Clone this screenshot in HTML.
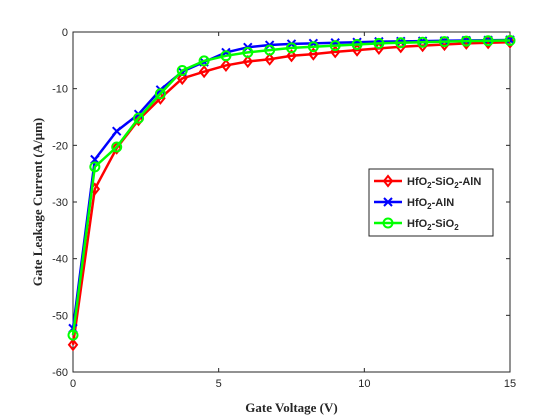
<!DOCTYPE html>
<html><head><meta charset="utf-8"><style>
body{margin:0;background:#fff}
svg{display:block}
</style></head><body>
<svg id="chart" width="560" height="420" xmlns="http://www.w3.org/2000/svg" font-family="Liberation Sans, sans-serif">
<rect width="560" height="420" fill="#fff"/>
<g id="plot"></g>
</svg>
<script>
const xVals=[0,0.75,1.5,2.25,3,3.75,4.5,5.25,6,6.75,7.5,8.25,9,9.75,10.5,11.25,12,12.75,13.5,14.25,15];
const redVals=[-55.2,-27.7,-20.5,-15.5,-11.7,-8.2,-7.0,-5.9,-5.2,-4.8,-4.2,-3.9,-3.5,-3.2,-2.9,-2.6,-2.4,-2.2,-2.0,-1.9,-1.8];
const blueVals=[-52.3,-22.5,-17.5,-14.5,-10.2,-7.0,-5.3,-3.6,-2.7,-2.3,-2.1,-2.0,-1.9,-1.8,-1.7,-1.65,-1.6,-1.55,-1.5,-1.45,-1.4];
const greenVals=[-53.5,-23.8,-20.3,-15.2,-10.9,-6.8,-5.1,-4.2,-3.6,-3.2,-2.8,-2.6,-2.4,-2.2,-2.0,-1.9,-1.8,-1.7,-1.6,-1.55,-1.5];
const xTicks=[0,5,10,15];
const yTicks=[0,-10,-20,-30,-40,-50,-60];
const L=73,R=510,T=32,B=372;
const sx=v=>L+(v-0)/15*(R-L);
const sy=v=>T+(0-v)/60*(B-T);
const NS='http://www.w3.org/2000/svg';
const g=document.getElementById('plot');
function mk(tag,attrs,parent){const e=document.createElementNS(NS,tag);for(const k in attrs)e.setAttribute(k,attrs[k]);(parent||g).appendChild(e);return e;}
const ax=mk('g',{});


mk('rect',{x:L,y:T,width:R-L,height:B-T,fill:'none',stroke:'#262626','stroke-width':1},ax);
xTicks.forEach(t=>{const x=sx(t);
mk('line',{x1:x,x2:x,y1:B,y2:B-4,stroke:'#262626'},ax);
mk('line',{x1:x,x2:x,y1:T,y2:T+4,stroke:'#262626'},ax);
const tx=mk('text',{x:x,y:B+15,'font-size':11,'text-anchor':'middle',fill:'#262626'},ax);tx.textContent=t;

});
yTicks.forEach(t=>{const y=sy(t);
mk('line',{x1:L,x2:L+4,y1:y,y2:y,stroke:'#262626'},ax);
mk('line',{x1:R,x2:R-4,y1:y,y2:y,stroke:'#262626'},ax);
const tx=mk('text',{x:L-5,y:y+4,'font-size':11,'text-anchor':'end',fill:'#262626'},ax);tx.textContent=t;

});
const xl=mk('text',{x:(L+R)/2,y:412,'font-size':13,'font-weight':'bold','font-family':'Liberation Serif, serif','text-anchor':'middle',fill:'#262626'});
xl.textContent='Gate Voltage (V)';


const yl=mk('text',{x:0,y:0,'font-size':13,'font-weight':'bold','font-family':'Liberation Serif, serif','text-anchor':'middle',fill:'#262626',transform:`translate(42,${(T+B)/2}) rotate(-90)`});
yl.textContent='Gate Leakage Current (A/\u03bcm)';


function marker(type,x,y,c,p){
 if(type==='d')mk('polygon',{points:`${x},${y-5} ${x+4},${y} ${x},${y+5} ${x-4},${y}`,fill:'none',stroke:c,'stroke-width':2},p);
 else if(type==='x'){mk('line',{x1:x-4,y1:y-4,x2:x+4,y2:y+4,stroke:c,'stroke-width':2},p);mk('line',{x1:x-4,y1:y+4,x2:x+4,y2:y-4,stroke:c,'stroke-width':2},p);}
 else mk('circle',{cx:x,cy:y,r:4.5,fill:'none',stroke:c,'stroke-width':2},p);
}
function series(vals,c,type,name){
 const s=mk('g',{});
 
 
 mk('polyline',{points:vals.map((v,i)=>sx(xVals[i])+','+sy(v)).join(' '),fill:'none',stroke:c,'stroke-width':2.5},s);
 vals.forEach((v,i)=>marker(type,sx(xVals[i]),sy(v),c,s));
}
series(redVals,'#ff0000','d','series-hfo2-sio2-aln');
series(blueVals,'#0000ff','x','series-hfo2-aln');
series(greenVals,'#00ff00','o','series-hfo2-sio2');
const lg=mk('g',{});


mk('rect',{x:369,y:169,width:124,height:67,fill:'#fff',stroke:'#262626'},lg);
const items=[['#ff0000','d',['HfO','2','-SiO','2','-AlN']],['#0000ff','x',['HfO','2','-AlN']],['#00ff00','o',['HfO','2','-SiO','2']]];
items.forEach((it,i)=>{const y=181+i*21;
 const e=mk('g',{},lg);
 
 
 mk('line',{x1:374,x2:402,y1:y,y2:y,stroke:it[0],'stroke-width':2.5},e);
 marker(it[1],388,y,it[0],e);
 const t=mk('text',{x:407,y:y+4,'font-size':11,'font-weight':'bold',fill:'#262626'},e);
 it[2].forEach((s,j)=>{const ts=mk('tspan',{},t);ts.textContent=s;if(j%2===1){ts.setAttribute('font-size','8');ts.setAttribute('dy','3');}else if(j>0){ts.setAttribute('dy','-3');}});
});
</script>
</body></html>
